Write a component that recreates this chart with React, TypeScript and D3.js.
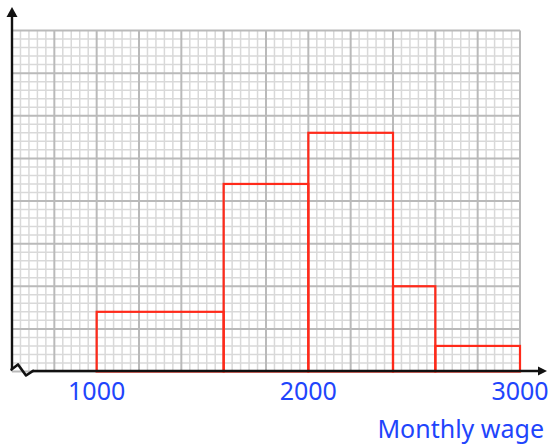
import React, { useEffect, useRef } from "react";
import * as d3 from "d3";

// class boundaries (monthly wage) and frequency density of each class
const classEdges = [1000, 1600, 2000, 2400, 2600, 3000];
const densities = [1.4, 4.4, 5.6, 2.0, 0.6];
const tickLabels = [1000, 2000, 3000];
const xLabel = "Monthly wage";

const W = 550;
const H = 448;

const App = () => {
  const ref = useRef<SVGSVGElement>(null);

  useEffect(() => {
    const svg = d3.select(ref.current);
    svg.selectAll("*").remove();

    const x = d3.scaleLinear().domain([600, 3000]).range([12, 520]);
    const y = d3.scaleLinear().domain([0, 8]).range([371.5, 30.5]);

    const grid = svg.append("g");

    // minor grid
    const minorX = d3.range(600, 3001, 40).filter((v) => v % 200 !== 0);
    const minorY = d3.range(0, 8.001, 0.2).filter((v) => Math.abs(v - Math.round(v)) > 0.01);
    grid.selectAll(".mx").data(minorX).join("line")
      .attr("x1", (d) => x(d)).attr("x2", (d) => x(d))
      .attr("y1", y(0)).attr("y2", y(8))
      .attr("stroke", "#d9d9d9").attr("stroke-width", 1.5);
    grid.selectAll(".my").data(minorY).join("line")
      .attr("y1", (d) => y(d)).attr("y2", (d) => y(d))
      .attr("x1", x(600)).attr("x2", x(3000))
      .attr("stroke", "#d9d9d9").attr("stroke-width", 1.5);

    // major grid
    const majorX = d3.range(600, 3001, 200);
    const majorY = d3.range(0, 9, 1);
    grid.selectAll(".Mx").data(majorX).join("line")
      .attr("x1", (d) => x(d)).attr("x2", (d) => x(d))
      .attr("y1", y(0)).attr("y2", y(8))
      .attr("stroke", "#bababa").attr("stroke-width", 2);
    grid.selectAll(".My").data(majorY).join("line")
      .attr("y1", (d) => y(d)).attr("y2", (d) => y(d))
      .attr("x1", x(600)).attr("x2", x(3000))
      .attr("stroke", "#bababa").attr("stroke-width", 2);

    // histogram bars
    const bars = densities.map((v, i) => ({ x0: classEdges[i], x1: classEdges[i + 1], v }));
    svg.append("g").selectAll("rect").data(bars).join("rect")
      .attr("x", (d) => x(d.x0))
      .attr("y", (d) => y(d.v))
      .attr("width", (d) => x(d.x1) - x(d.x0))
      .attr("height", (d) => y(0) - y(d.v))
      .attr("fill", "none")
      .attr("stroke", "#ff2a1a")
      .attr("stroke-width", 2.2);

    // axes
    const ax = svg.append("g").attr("stroke", "#111").attr("fill", "none");
    ax.append("line")
      .attr("x1", 12).attr("x2", 12).attr("y1", 16).attr("y2", 369)
      .attr("stroke-width", 2.4);
    ax.append("path")
      .attr("d", "M11.5,369.5 L18,364.5 L26,375.5 L33,370.8")
      .attr("stroke-width", 2.6).attr("stroke-linejoin", "round").attr("stroke-linecap", "round");
    ax.append("line")
      .attr("x1", 33).attr("x2", 540).attr("y1", 371).attr("y2", 371)
      .attr("stroke-width", 2.4);
    svg.append("path").attr("d", "M12,7 L6.5,17 L17.5,17 Z").attr("fill", "#111");
    svg.append("path").attr("d", "M547,371 L538,366.5 L538,375.5 Z").attr("fill", "#111");

    // tick labels
    svg.append("g").selectAll("text").data(tickLabels).join("text")
      .attr("x", (d) => x(d))
      .attr("y", 400)
      .attr("text-anchor", "middle")
      .attr("font-family", "'Comic Sans MS', 'Noto Sans', sans-serif")
      .attr("font-size", 25)
      .attr("fill", "#1f45fc")
      .text((d) => d);

    svg.append("text")
      .attr("x", 544)
      .attr("y", 438)
      .attr("text-anchor", "end")
      .attr("font-family", "'Comic Sans MS', 'Noto Sans', sans-serif")
      .attr("font-size", 25)
      .attr("fill", "#1f45fc")
      .text(xLabel);
  }, []);

  return (
    <div style={{ position: "absolute", left: 0, top: 0 }}>
      <svg ref={ref} width={W} height={H} style={{ display: "block", background: "#fff" }} />
    </div>
  );
};

export default App;
